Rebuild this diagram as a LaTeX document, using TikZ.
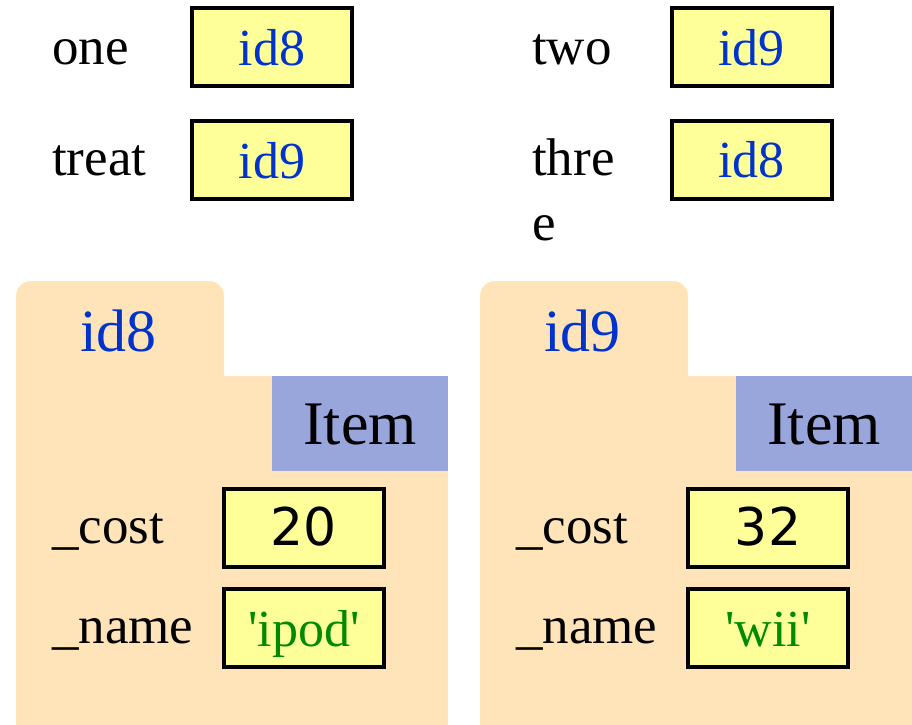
\documentclass[tikz,border=0pt]{standalone}
\usepackage{fontspec}
\setmainfont{Liberation Serif}
\newfontfamily\numfont{DejaVu Sans}
\definecolor{folderfill}{HTML}{FFE4B9}
\definecolor{classfill}{HTML}{99A6DB}
\definecolor{cellfill}{HTML}{FFFF9A}
\definecolor{idblue}{HTML}{0033CC}
\definecolor{strgreen}{HTML}{008A00}
\tikzset{
  cell/.style={draw=black, line width=4pt, fill=cellfill, minimum width=160pt,
    minimum height=78pt, inner sep=0pt, text height=36pt, text depth=0pt,
    font=\fontsize{52}{62}\selectfont},
  varname/.style={anchor=base west, inner sep=0pt, align=left,
    font=\fontsize{53}{65}\selectfont},
  folder/.style={fill=folderfill},
  classtag/.style={fill=classfill, minimum width=176pt, minimum height=95pt,
    inner sep=0pt, text height=42pt, text depth=0pt, font=\fontsize{62}{70}\selectfont},
  tabid/.style={anchor=base, inner sep=0pt, text=idblue, font=\fontsize{60}{70}\selectfont},
}
\begin{document}
\begin{tikzpicture}[x=1pt,y=-1pt]
\useasboundingbox (0,0) rectangle (912,724);

% global variables
\node[varname] (one) at (52,64) {one};
\node[cell, text=idblue] (vone) at (272,47) {id8};
\node[varname] (treat) at (52,175) {treat};
\node[cell, text=idblue] (vtreat) at (272,160) {id9};
\node[varname] (two) at (532,64) {two};
\node[cell, text=idblue] (vtwo) at (751.5,47) {id9};
% the name wraps; the base anchor sits on its last line
\node[varname] (three) at (532,240) {thre\\e};
\node[cell, text=idblue] (vthree) at (751.5,159.5) {id8};

% folder for id8
\fill[folder, rounded corners=15pt] (16,281) rectangle (224,780);
\fill[folder] (16,376) rectangle (448,780);
\node[tabid] (tab8) at (118.5,351) {id8};
\node[classtag] (cls8) at (360,423.5) {Item};
\node[varname] (cost8) at (52,543) {\_cost};
\node[cell] (vcost8) at (304,527.5) {\numfont 20};
\node[varname] (name8) at (52,643) {\_name};
\node[cell, text=strgreen] (vname8) at (304,628) {\textquotesingle ipod\textquotesingle};

% folder for id9
\fill[folder, rounded corners=15pt] (480,281) rectangle (688,780);
\fill[folder] (480,376) rectangle (912,780);
\node[tabid] (tab9) at (582.5,351) {id9};
\node[classtag] (cls9) at (824,423.5) {Item};
\node[varname] (cost9) at (516,543) {\_cost};
\node[cell] (vcost9) at (768,527.5) {\numfont 32};
\node[varname] (name9) at (516,643) {\_name};
\node[cell, text=strgreen] (vname9) at (768,628) {\textquotesingle wii\textquotesingle};
\end{tikzpicture}
\end{document}
